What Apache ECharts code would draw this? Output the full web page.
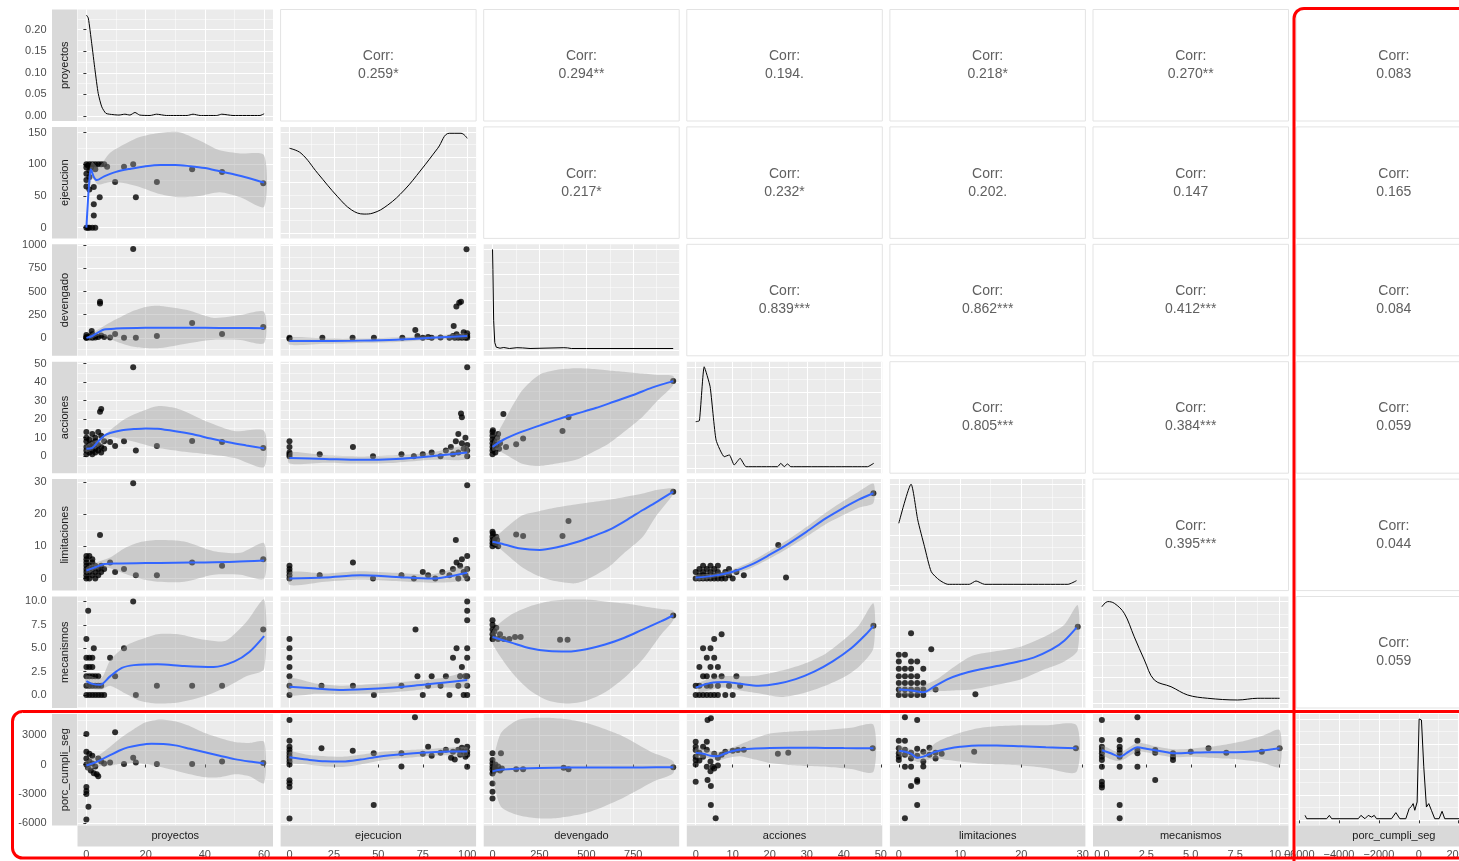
<!DOCTYPE html>
<html><head><meta charset="utf-8">
<script src="https://cdn.jsdelivr.net/npm/echarts@6/dist/echarts.min.js"></script>
<style>html,body{margin:0;padding:0;background:#fff;}#c{width:1459px;height:861px;}</style>
</head><body><div id="c"></div>
<script>
// ---------------- DATA ----------------
const variables = ['proyectos','ejecucion','devengado','acciones','limitaciones','mecanismos','porc_cumpli_seg'];
const corrRow0 = ['0.259*','0.294**','0.194.','0.218*','0.270**','0.083'];
const corrRow1 = ['0.217*','0.232*','0.202.','0.147','0.165'];
const corrRow2 = ['0.839***','0.862***','0.412***','0.084'];
const corrRow3 = ['0.805***','0.384***','0.059'];
const corrRow4 = ['0.395***','0.044'];
const corrRow5 = ['0.059'];

// densities (diagonal); proyectos in density units, others relative to panel peak
const dens_proy = [[0,0.234],[0.65,0.227],[1.8,0.168],[2.9,0.107],[4,0.052],[5.2,0.021],[6.6,0.006],[9,0.003],[11,0.002],[13,0.004],[14.7,0.002],[16.4,0.008],[18,0.002],[21.5,0.001],[23.7,0.004],[27,0.001],[34,0.001],[36,0.004],[38.4,0.001],[44,0.001],[45.7,0.004],[49.5,0.001],[58.6,0.001],[60,0.005]];
const dens_ejec = [[0,0.839],[6.5,0.79],[15.9,0.592],[27.1,0.361],[35,0.23],[42,0.19],[47,0.2],[55.3,0.279],[64.6,0.427],[74,0.625],[83.4,0.839],[89.9,0.987],[96.5,0.987],[100,0.937]];
const dens_dev = [[0,1.0],[2,0.8],[6,0.3],[12,0.08],[20,0.035],[40,0.025],[60,0.032],[90,0.022],[130,0.03],[160,0.028],[200,0.022],[380,0.03],[400,0.028],[420,0.022],[500,0.022],[963,0.022]];
const dens_acc = [[0,0.458],[1,0.468],[2.3,1.0],[3.9,0.803],[5.5,0.278],[7.7,0.113],[9.1,0.13],[10.4,0.031],[12,0.097],[13.6,0.014],[22.1,0.014],[23,0.048],[23.9,0.014],[24.8,0.041],[25.7,0.014],[46.4,0.014],[48.1,0.048]];
const dens_lim = [[0,0.614],[2,1.0],[3.1,0.646],[4.2,0.383],[5.3,0.136],[6.6,0.055],[8,0.012],[11.5,0.012],[12.6,0.045],[14,0.012],[27.6,0.012],[29,0.048]];
const dens_mec = [[0,0.949],[0.33,1.0],[0.7,0.983],[1.26,0.884],[1.82,0.653],[2.39,0.424],[2.95,0.226],[3.89,0.16],[4.83,0.078],[5.95,0.046],[7.64,0.029],[8.77,0.046],[10,0.046]];
const dens_porc = [[-5700,0.049],[-5617,0.016],[-4617,0.016],[-4483,0.049],[-4367,0.016],[-3033,0.016],[-2900,0.049],[-2700,0.016],[-2533,0.049],[-2367,0.032],[-2233,0.049],[-2117,0.016],[-1367,0.016],[-1150,0.076],[-950,0.016],[-650,0.016],[-483,0.115],[-367,0.138],[-283,0.165],[-200,0.099],[-83,0.181],[17,1.0],[133,0.99],[250,0.528],[383,0.131],[500,0.165],[633,0.099],[800,0.016],[1017,0.016],[1167,0.089],[1300,0.016],[2050,0.016],[3000,0.016]];

// scatter points (p_), loess fit (f_), confidence band [x, low, high] (b_)
const p_ejec_proy = [[0,0],[0.5,0],[1,0],[2,0],[3,0],[2.5,19],[2.5,37],[4.5,48],[1,60],[2.5,64],[0,65],[0,75],[1,80],[0,85],[1,90],[0,95],[0,100],[1,100],[2,100],[3,100],[4,100],[5,100],[6,100],[0.5,98],[1.5,95],[3,92],[7,96],[9.7,72],[12.7,96],[15.8,100],[16.7,48],[23.8,72],[35.7,92],[45.8,88],[59.7,70]];
const f_ejec_proy = [[0,0],[0.5,40],[1,75],[1.5,92],[2.5,80],[3.5,75],[6,81],[10,88],[15,93],[20,97],[25,99],[30,99],[35,97],[40,94],[45,89],[50,84],[55,78],[60,71]];
const b_ejec_proy = [[1,60,90],[2,78,104],[4,68,95],[8,72,118],[13,70,132],[18,64,143],[24,54,149],[31,48,151],[38,50,138],[45,56,122],[52,48,117],[60,33,114]];

const p_dev_proy = [[15.8,960],[4.6,390],[4.6,370],[1.8,75],[9.7,42],[12.7,0],[16.7,0],[23.8,20],[35.7,160],[45.8,42],[59.7,117],[8,5],[0,0],[0,10],[1,5],[2,0],[3,20],[0,30],[1,15],[2,40],[4,10],[5,25],[3,5],[0,2],[6,10]];
const f_dev_proy = [[0,0],[2,20],[4,60],[6,90],[10,100],[20,108],[30,110],[40,108],[50,106],[60,105]];
const b_dev_proy = [[1,-20,30],[5,30,110],[10,-40,200],[15,-90,280],[20,-110,333],[25,-110,345],[34,-60,300],[43,-20,215],[52,-23,246],[60,-57,280]];

const p_acc_proy = [[15.8,48],[4.6,24],[5,25.5],[8,7.6],[9.7,5.5],[12.7,8],[16.7,3],[23.8,5.5],[35.7,8.2],[45.8,7.6],[59.7,4.4],[0,1],[0,3],[0,5],[0,8],[0,10],[0,13],[1,2],[1,4],[1,6],[1,9],[2,1],[2,3],[2,5],[2,7],[2,12],[3,2],[3,4],[3,8],[3,10],[4,3],[4,6],[4,13],[5,2],[5,5],[5,11],[6,4],[6,8]];
const f_acc_proy = [[0,4],[2,4.5],[4,8],[6,11],[8,12.5],[12,14],[16,14.6],[20,15],[24,14.8],[30,13.5],[36,11.8],[42,9.5],[48,7.5],[54,5.8],[60,4.2]];
const b_acc_proy = [[0,2,6],[5,6,10],[8,10,14],[13,9,20],[18,7,23.8],[24,4.5,27],[31,2.8,25.5],[41,1,18.5],[50,-1,13.6],[60,-5.8,13.6]];

const p_lim_proy = [[15.8,29.6],[4.6,13.5],[9.7,2],[12.7,3],[16.7,1],[23.8,1],[35.7,5],[45.8,4],[59.7,6],[8,5],[0,0],[0,1],[0,2],[0,3],[0,4],[0,5],[0,6],[0,7],[1,0],[1,2],[1,4],[1,7],[2,1],[2,3],[2,5],[2,6],[3,0],[3,2],[3,4],[4,1],[4,3],[5,2],[5,4],[6,3]];
const f_lim_proy = [[0,2.5],[3,3.5],[6,4.5],[10,4.7],[20,4.8],[30,4.9],[40,5],[50,5.2],[60,5.6]];
const b_lim_proy = [[0,1.5,3.5],[5,3.5,5.5],[8,3.2,6.5],[13,1.5,9.5],[18,0,11.3],[24,-1,12],[33,-1,11.5],[43,1.2,8.5],[52,1.2,8],[60,0,11]];

const p_mec_proy = [[15.8,10],[0.6,9],[0,6],[2.5,5],[8,4],[12.7,5],[9.7,2],[16.7,0],[23.8,1],[35.7,1],[45.8,1],[59.7,7],[0,0],[1,0],[2,0],[3,0],[4,0],[5,0],[6,0],[0,1],[1,1],[2,1],[3,1],[4,1],[5,1],[0,2],[1,2],[2,2],[3,2],[4,2],[0,3],[1,3],[2,3],[0,4],[1,4],[2,4]];
const f_mec_proy = [[0,1.5],[2,1.2],[4.6,1.1],[8,2],[12,2.9],[16,3.2],[24,3.3],[33,3.1],[43,3.0],[50,3.6],[55,4.6],[60,6.3]];
const b_mec_proy = [[0,0.9,2.1],[5,0.6,1.8],[8,1,3.7],[13,0.2,5.2],[18,-0.6,5.9],[24,-0.9,6.5],[31,-0.8,6.5],[40,-0.1,5.9],[47,0.8,5.8],[54,2,7.8],[60,2.8,10.2]];

const p_porc_proy = [[0,3100],[9.7,3300],[0,1300],[1,1100],[2,900],[0,600],[1,300],[2,100],[3,-200],[0,0],[0.5,-300],[1.5,-600],[2.5,-900],[4,-1200],[3.5,-1000],[0,-2300],[0,-2700],[0,-3000],[0.7,-4300],[0,-5600],[5,300],[6,100],[4,600],[8,200],[12.7,50],[15.8,700],[16.7,200],[23.8,50],[35.7,50],[45.8,300],[59.7,150]];
const f_porc_proy = [[0,-100],[2,100],[4,350],[6,650],[8,950],[11,1400],[14,1750],[18,2000],[22,2120],[26,2100],[30,1950],[35,1600],[40,1250],[45,900],[50,550],[55,300],[60,100]];
const b_porc_proy = [[0,-600,400],[4,-200,900],[8,-100,1800],[12,50,2800],[16,150,3600],[20,50,4300],[25,-250,4600],[30,-600,4400],[35,-1000,3900],[40,-1300,3200],[45,-1300,2700],[50,-1000,2300],[55,-1200,2200],[60,-1900,2300]];

const p_dev_ejec = [[0,0],[0,-10],[18.5,0],[35.5,0],[47.5,0],[63.5,0],[70.8,85],[72,20],[75,0],[78,10],[80,0],[85,5],[90,0],[92,20],[92.4,128],[93,0],[94,40],[95,0],[96,10],[97,0],[98,60],[99,0],[100,0],[100,20],[100,50],[93.9,340],[95.5,380],[96.5,390],[99.6,957]];
const f_dev_ejec = [[0,-35],[20,-35],[40,-30],[60,-20],[80,0],[100,20]];
const b_dev_ejec = [[0,-75,5],[20,-65,-5],[40,-55,-5],[60,-45,5],[80,-20,20],[100,-10,50]];

const p_acc_ejec = [[0,0],[0,2],[0,5],[0,8],[0,1],[17,1],[35.7,5],[47,0],[63,1],[70,0],[75,1],[80,2],[85,0],[88,3],[90.8,5],[93.6,8],[95,2],[96.5,23],[97,21],[98,4],[99,10],[100,48],[100,0],[100,3],[100,6],[92,1],[95,12],[97,7]];
const f_acc_ejec = [[0,-1],[20,-1.5],[40,-2],[60,-1.5],[80,0],[100,2]];
const b_acc_ejec = [[0,-4,2],[20,-3.5,0.5],[40,-4,0],[60,-3.5,0.5],[80,-2,2],[100,-1.5,5.5]];

const p_lim_ejec = [[0,0],[0,1],[0,2],[0,3],[0,4],[17,1],[35.7,5],[47,0],[63,1],[70,0],[75,2],[78,1],[82,0],[86,2],[90,1],[92,3],[93.6,12],[95,0],[96,4],[97,6],[98,2],[99,1],[100,29],[100,0],[100,3],[100,7],[94,5]];
const f_lim_ejec = [[0,0],[20,0.3],[40,1],[60,0.5],[80,0],[100,1.8]];
const b_lim_ejec = [[0,-2,2],[20,-1,1.6],[40,-0.3,2.3],[60,-0.8,1.8],[80,-1.3,1.3],[100,-0.3,3.8]];

const p_mec_ejec = [[0,0],[0,1],[0,2],[0,3],[0,4],[0,5],[0,6],[18,1],[35.7,1],[47.5,0],[63,1],[70.9,7],[72,2],[75,0],[78,1],[80,2],[85,1],[88,2],[90,0],[92,4],[94,5],[95,1],[96,2],[97,3],[98,0],[99,2],[100,0],[100,1],[100,2],[100,4],[100,5],[100,8],[100,9],[100,10]];
const f_mec_ejec = [[0,0.9],[15,0.7],[30,0.55],[50,0.7],[70,1.0],[85,1.3],[100,1.6]];
const b_mec_ejec = [[0,0,1.8],[15,0.15,1.25],[30,0.1,1.0],[50,0.2,1.2],[70,0.5,1.5],[85,0.8,1.8],[100,0.9,2.3]];

const p_porc_ejec = [[0,4540],[0,2430],[0,1800],[0,1500],[0,1200],[0,900],[0,600],[0,300],[0,0],[0,-1600],[0,-1900],[0,-2300],[0,-5500],[18,1650],[35.6,1400],[47.4,1150],[47.4,-4130],[63,1150],[63,-200],[70.6,4810],[75,1100],[78,1800],[80,900],[85,1200],[88,1500],[90.9,700],[92,1300],[93,500],[94.3,2430],[95,1500],[96,1000],[97,1700],[98,1300],[99,800],[100,1800],[100,1300],[100,1000],[100,-230]];
const f_porc_ejec = [[0,750],[10,500],[20,320],[30,300],[40,500],[50,800],[60,1000],[70,1150],[80,1250],[90,1320],[100,1320]];
const b_porc_ejec = [[0,200,1300],[10,0,1000],[20,-200,850],[30,-250,800],[40,0,1000],[50,350,1250],[60,600,1400],[70,750,1500],[80,900,1600],[90,950,1700],[100,900,1750]];

const p_acc_dev = [[963,40.6],[58,22.8],[405,21],[373,13.6],[163,9.6],[126,6.4],[72,5],[0,3],[0,5],[0,7],[0,9],[0,11],[0,13],[5,4],[10,8],[15,2],[20,6],[25,10],[30,12],[35,4],[40,7],[0,1],[2,14],[8,6]];
const f_acc_dev = [[0,5],[60,9],[150,13],[250,16.5],[350,20],[450,23],[550,26],[650,29.5],[750,33],[850,37],[963,40.5]];
const b_acc_dev = [[0,3,7],[27,3.3,12.3],[154,-3.9,35],[250,-5.3,44],[340,-4,46.5],[440,-2.1,47.4],[520,1.5,47.2],[620,6.9,46.3],[700,13,45.6],[800,21.3,44.6],[880,30,43.8],[963,38.4,43.3]];

const p_lim_dev = [[963,27],[405,17.9],[373,13.2],[163,13.2],[126,13.7],[0,10],[0,11],[0,12],[0,13],[5,11],[10,12],[15,10.5],[20,13],[2,14],[8,11.5],[25,12],[30,10],[0,14.5]];
const f_lim_dev = [[0,11.4],[62,10.6],[150,9.3],[252,8.9],[350,9.8],[441,11.2],[530,13],[621,15.1],[710,18],[801,21.3],[880,24],[963,27]];
const b_lim_dev = [[0,10.5,12.5],[27,9.9,13.5],[154,3.7,19.5],[252,0.6,21],[333,-0.8,22],[441,-1.5,23],[513,0,23.6],[621,3.7,24.5],[693,7.5,25.2],[801,13,26.4],[873,19.5,27.5],[963,26.2,28]];

const p_mec_dev = [[963,8.5],[400,5.9],[360,5.9],[0,6],[0,6.5],[0,7],[0,7.5],[5,6.2],[10,6.8],[20,7.2],[30,6],[40,6.5],[60,6],[90,6],[120,6.2],[150,6.2],[0,8],[2,6]];
const f_mec_dev = [[0,6.2],[100,5.6],[200,5.0],[300,4.7],[400,4.65],[500,4.9],[600,5.4],[700,6.1],[800,7.0],[900,7.9],[963,8.5]];
const b_mec_dev = [[0,5.5,6.9],[100,2.5,8.6],[200,0.5,9.5],[300,-0.6,10],[400,-0.9,10.2],[500,-0.6,10.2],[600,0.3,10],[700,1.8,9.8],[800,3.8,9.5],[900,6.5,9.2],[963,8.0,9.0]];

const p_porc_dev = [[0,1140],[45,1140],[0,460],[0,100],[0,-230],[0,-500],[0,-910],[0,-1930],[0,-2780],[0,-3460],[10,-300],[20,-500],[30,-200],[40,-600],[50,-400],[126,-490],[163,-490],[379,-330],[405,-490],[963,-290],[5,-700],[15,0]];
const f_porc_dev = [[0,-700],[50,-520],[150,-420],[250,-360],[400,-310],[600,-300],[800,-295],[963,-290]];
const b_porc_dev = [[0,-1250,-50],[45,-4300,3200],[135,-5150,4550],[225,-5450,4750],[315,-5500,4750],[405,-5300,4600],[495,-4950,4250],[585,-4350,3700],[675,-3600,3050],[765,-2700,2150],[855,-1750,1200],[963,-900,330]];

const p_lim_acc = [[48,26.5],[22.3,10.4],[24.4,0.3],[0,0],[1,0],[2,0],[3,0],[4,0],[5,0],[6,0],[7,0],[8,0],[10,0],[1,1],[2,1],[3,1],[5,1],[7,1],[9,1],[0,2],[2,2],[4,2],[6,2],[8,2],[11,2],[1,3],[3,3],[5,3],[9,3],[2,4],[4,4],[6,4],[13,1]];
const f_lim_acc = [[0,0.3],[5,0.9],[10,2.1],[15,4.3],[20,7.4],[25,10.8],[30,14.6],[35,18.6],[40,22],[44,24.5],[48,26.5]];
const b_lim_acc = [[0,-0.5,1.1],[5,0.2,1.6],[10,1.3,2.9],[15,3.3,5.3],[20,6.2,8.6],[25,9.5,12.1],[30,13.1,16.1],[35,16.8,20.4],[40,19.8,24.2],[44,22,27],[48,23.5,29.5]];

const p_mec_acc = [[0,0],[1,0],[2,0],[3,0],[4,0],[5,0],[6,0],[8,0],[10,0],[0,1],[1,1],[3,1],[4,1],[6,1],[9,1],[12,1],[2,2],[3,2],[5,2],[7,2],[11,2],[4,3],[6,3],[1,3],[3,4],[5,4],[2,5],[4,5],[5,6],[7,6.5],[48,7.4]];
const f_mec_acc = [[0,0.8],[4,1.3],[8,1.4],[12,1.2],[17,1.0],[22,1.2],[27,1.7],[32,2.5],[37,3.6],[42,5.0],[46,6.5],[48,7.4]];
const b_mec_acc = [[1,0.3,1.3],[7,0.8,2.0],[12,0.5,2.0],[17,0.2,2.1],[23,-0.2,2.6],[29,0.2,3.3],[35,1.0,4.4],[40,1.9,5.9],[44,3.0,7.4],[48,5.0,9.8]];

const p_porc_acc = [[3.2,4540],[4.1,4710],[0,2320],[3,2320],[0,1810],[0,1470],[0,790],[0,450],[0,0],[0,-1760],[3.2,-1590],[4.1,-2200],[4.1,-4130],[5.4,-5490],[3,-230],[4.6,-230],[1,1200],[2,800],[3,1500],[4,300],[5,1100],[6,700],[7,1000],[5,-400],[8,1300],[10,1400],[11.4,1470],[13,1500],[22.2,1100],[25,1200],[47.8,1650],[2,1800],[6,-100],[1,400],[4,-700]];
const f_porc_acc = [[0,1200],[2,1100],[4,900],[6,850],[8,1150],[11,1450],[15,1600],[20,1680],[25,1700],[30,1700],[35,1690],[40,1670],[48,1650]];
const b_porc_acc = [[0,700,1700],[3,700,1500],[6,450,1250],[9,700,1600],[12,850,2050],[16,500,2650],[20,150,3150],[25,-50,3350],[30,-150,3450],[36,-250,3550],[42,-450,3750],[48,-750,4050]];

const p_mec_lim = [[0,0],[1,0],[2,0],[3,0],[4,0],[0,0.6],[1,0.6],[2,0.6],[3,0.6],[4,0.6],[6,0.6],[0,1.3],[1,1.3],[2,1.3],[3,1.3],[4,1.3],[0,2],[1,2],[2,2],[3,2],[0,2.8],[1,2.8],[2,2.8],[4,2.8],[0,3.6],[2,3.6],[3,3.6],[0,4.3],[1,4.3],[2,6.6],[5.3,4.9],[12.5,0.1],[29.2,7.3]];
const f_mec_lim = [[0,0.6],[2,0.5],[4,0.3],[6,1.0],[8,1.7],[10,2.2],[13,2.7],[16,3.1],[19,3.5],[22,4.0],[25,4.9],[27,5.8],[29,7.2]];
const b_mec_lim = [[0,0.2,1.0],[3,0.1,0.9],[6,0.4,1.6],[9,0.5,3.0],[12,0.6,4.2],[16,1.1,4.7],[20,1.7,5.2],[24,2.8,6.3],[27,3.6,7.5],[29.2,4.8,9.6]];

const p_porc_lim = [[1,4810],[3,4540],[0,2430],[1,2430],[0,1650],[0,1140],[0,460],[1,-230],[2,-230],[3,-1580],[3,-1760],[2,-2200],[3,-4130],[1,-5490],[12.3,1300],[28.9,1650],[1,1500],[2,1200],[3,900],[4,1300],[5,1000],[6,1200],[7,1100],[2,600],[4,300],[3,1600],[5,1700],[0,800],[1,1000],[4,-200],[6,600]];
const f_porc_lim = [[0,1400],[1,1300],[2,1100],[3,700],[4,800],[5,1050],[6,1300],[8,1600],[10,1800],[13,1950],[16,1950],[20,1850],[24,1750],[29,1650]];
const b_porc_lim = [[0,950,1950],[1,850,1750],[2,600,1550],[3,250,1200],[4,350,1300],[5,500,1650],[6,650,2200],[8,450,2800],[10,300,3250],[13,100,3700],[16,0,3900],[20,-100,4000],[24,-350,4000],[29,-750,4000]];

const p_porc_mec = [[0,4540],[2,4810],[0,2500],[0,1810],[0,1140],[0,460],[0,-230],[0,-1760],[0,-2100],[0,-2340],[1,2500],[1,1810],[1,1470],[1,1140],[1,800],[1,-230],[1,-4130],[1,-5490],[2,2430],[2,1470],[2,1140],[2,-230],[3,-1580],[3,1470],[3,1200],[4,1140],[4,800],[4,460],[5,1300],[6,1650],[7,1200],[9,1300],[10,1650],[0,800],[0,1470]];
const f_porc_mec = [[0,1450],[0.5,1150],[1,800],[1.5,1300],[2,1750],[2.5,1600],[3,1450],[3.5,1300],[4,1150],[5,1200],[6,1250],[7,1250],[8,1280],[9,1400],[10,1650]];
const b_porc_mec = [[0,1000,1900],[1,350,1250],[2,1300,2200],[3,1050,1850],[4,750,1550],[5,800,1600],[6,700,1800],[7,600,2050],[8,450,2400],[9,200,2900],[10,-230,3520]];

// ---------------- LAYOUT / SCALES ----------------
const corrRows = [corrRow0, corrRow1, corrRow2, corrRow3, corrRow4, corrRow5];
const densities = [dens_proy, dens_ejec, dens_dev, dens_acc, dens_lim, dens_mec, dens_porc];
const densSmooth = [0.2, 0.4, 0, 0.15, 0.2, 0.35, 0];
const lower = {
  '1,0':[p_ejec_proy,f_ejec_proy,b_ejec_proy], '2,0':[p_dev_proy,f_dev_proy,b_dev_proy],
  '3,0':[p_acc_proy,f_acc_proy,b_acc_proy], '4,0':[p_lim_proy,f_lim_proy,b_lim_proy],
  '5,0':[p_mec_proy,f_mec_proy,b_mec_proy], '6,0':[p_porc_proy,f_porc_proy,b_porc_proy],
  '2,1':[p_dev_ejec,f_dev_ejec,b_dev_ejec], '3,1':[p_acc_ejec,f_acc_ejec,b_acc_ejec],
  '4,1':[p_lim_ejec,f_lim_ejec,b_lim_ejec], '5,1':[p_mec_ejec,f_mec_ejec,b_mec_ejec],
  '6,1':[p_porc_ejec,f_porc_ejec,b_porc_ejec], '3,2':[p_acc_dev,f_acc_dev,b_acc_dev],
  '4,2':[p_lim_dev,f_lim_dev,b_lim_dev], '5,2':[p_mec_dev,f_mec_dev,b_mec_dev],
  '6,2':[p_porc_dev,f_porc_dev,b_porc_dev], '4,3':[p_lim_acc,f_lim_acc,b_lim_acc],
  '5,3':[p_mec_acc,f_mec_acc,b_mec_acc], '6,3':[p_porc_acc,f_porc_acc,b_porc_acc],
  '5,4':[p_mec_lim,f_mec_lim,b_mec_lim], '6,4':[p_porc_lim,f_porc_lim,b_porc_lim],
  '6,5':[p_porc_mec,f_porc_mec,b_porc_mec]
};
const COLX = [[-3,63,20],[-5,105,25],[-47,995,250],[-2.4,50.4,10],[-1.45,30.45,10],[-0.5,10.5,2.5],[-6150,3650,2000]];
const ROWY = [[-0.0118,0.247,0.05],[-17,159,50],[-194,1011,250],[-9.2,51,10],[-3.75,30.9,10],[-1.38,10.53,2.5],[-6210,5160,3000]];
const DIAGY = [-0.05,1.05,0.25];
const L = {left0:77.5, dx:203.1, w:195.5, top0:9.5, dy:117.4, h:111.5};
const FONT = 'Liberation Sans, Arial, sans-serif';

function isMult(v, I){ return Math.abs(v/I - Math.round(v/I)) < 1e-6; }
function multiples(r){ const out=[]; for(let k=Math.ceil(r[0]/r[2]); k*r[2]<=r[1]+1e-9; k++) out.push(+(k*r[2]).toFixed(6)); return out; }
function fmt(v, I, kind, minusChar){
  if(!isMult(v,I)) return '';
  if(kind==='d2') return v.toFixed(2);
  if(kind==='d1') return v.toFixed(1);
  const s = String(Math.round(v));
  return v<0 ? minusChar + s.slice(1) : s;
}
const xKind = ['i','i','i','i','i','d1','i'];
const yKind = ['d2','i','i','i','i','d1','i'];

const grids=[], xAxes=[], yAxes=[], series=[], elements=[];
const gridLine = {show:true, lineStyle:{color:'#ffffff', width:1.1}};
const minorLine = {show:true, lineStyle:{color:'#ffffff', width:0.5}};

function bandSeries(band, gi){
  return {type:'custom', xAxisIndex:gi, yAxisIndex:gi, clip:true, silent:true, z:3,
    data: band, encode:{x:0, y:[1,2]},
    renderItem: function(params, api){
      if(params.dataIndex !== 0) return null;
      const up = band.map(r=>api.coord([r[0], r[2]]));
      const lo = band.map(r=>api.coord([r[0], r[1]])).reverse();
      return {type:'polygon', shape:{points: up.concat(lo), smooth:0.25},
        style:{fill:'rgba(153,153,153,0.4)', stroke:null}};
    }};
}

for(let i=0;i<7;i++){
  for(let j=0;j<7;j++){
    const gi = grids.length;
    const upper = j>i, diag = i===j;
    const left = L.left0 + j*L.dx, top = L.top0 + i*L.dy;
    grids.push({left:left, top:top, width:L.w, height:L.h, show:true, containLabel:false, outerBoundsMode:'none',
      backgroundColor: upper ? '#ffffff' : '#EBEBEB',
      borderColor: upper ? '#E3E3E3' : 'rgba(0,0,0,0)', borderWidth: upper ? 1 : 0});
    const cx = COLX[j];
    const bottomRow = i===6, leftCol = j===0;
    const xm = multiples(cx);
    xAxes.push({type:'value', gridIndex:gi, min:cx[0], max:cx[1], minInterval:cx[2], maxInterval:cx[2],
      show: !upper, position:'bottom', offset: bottomRow ? 21 : 0,
      axisLine:{show:false},
      axisTick:{show:bottomRow, length:3, customValues:xm, lineStyle:{color:'#333333', width:1}},
      axisLabel:{show:bottomRow, customValues:xm, color:'#4D4D4D', fontSize:11, fontFamily:FONT, margin:3,
        formatter:(v)=>fmt(v, cx[2], xKind[j], '\u2212')},
      splitLine:gridLine, minorTick:{show:false, splitNumber:2}, minorSplitLine:minorLine});
    const ry = (diag && i>0) ? DIAGY : ROWY[i];
    const ym = multiples(ry);
    yAxes.push({type:'value', gridIndex:gi, min:ry[0], max:ry[1], minInterval:ry[2], maxInterval:ry[2],
      show: !upper, position:'left', offset: leftCol ? 26 : 0,
      axisLine:{show:false},
      axisTick:{show:leftCol, length:3, customValues:ym, lineStyle:{color:'#333333', width:1}},
      axisLabel:{show:leftCol, customValues:ym, color:'#4D4D4D', fontSize:11, fontFamily:FONT, margin:5,
        formatter:(v)=>fmt(v, ry[2], yKind[i], '-')},
      splitLine:gridLine, minorTick:{show:false, splitNumber:2}, minorSplitLine:minorLine});

    if(upper){
      elements.push({type:'text', silent:true, z:10,
        style:{text:'Corr:\n' + corrRows[i][j-i-1], x:left+L.w/2, y:top+L.h/2,
          align:'center', verticalAlign:'middle', fill:'#606060', font:'14px ' + FONT, lineHeight:18}});
    } else if(diag){
      series.push({type:'line', xAxisIndex:gi, yAxisIndex:gi, data:densities[i], symbol:'none',
        smooth:densSmooth[i], lineStyle:{color:'#000000', width:1}, silent:true, z:4});
    } else {
      const [pts, fit, band] = lower[i+','+j];
      series.push({type:'scatter', xAxisIndex:gi, yAxisIndex:gi, data:pts, symbolSize:6,
        itemStyle:{color:'#000000'}, silent:true, z:2});
      series.push(bandSeries(band, gi));
      series.push({type:'line', xAxisIndex:gi, yAxisIndex:gi, data:fit, symbol:'none', smooth:0.3,
        lineStyle:{color:'#3366FF', width:2}, silent:true, z:4});
    }
  }
}

// strips
for(let i=0;i<7;i++){
  const top = L.top0 + i*L.dy;
  elements.push({type:'rect', silent:true, z:5, shape:{x:52, y:top, width:25, height:L.h}, style:{fill:'#D9D9D9'}});
  elements.push({type:'text', silent:true, z:6, x:64.5, y:top+L.h/2, rotation:Math.PI/2,
    style:{text:variables[i], x:0, y:0, align:'center', verticalAlign:'middle', fill:'#1A1A1A', font:'11px ' + FONT}});
}
for(let j=0;j<7;j++){
  const left = L.left0 + j*L.dx;
  const stripTop = L.top0 + 6*L.dy + L.h;
  elements.push({type:'rect', silent:true, z:5, shape:{x:left, y:stripTop, width:L.w, height:21}, style:{fill:'#D9D9D9'}});
  elements.push({type:'text', silent:true, z:6,
    style:{text:variables[j], x:left+L.w/2, y:stripTop+10.5, align:'center', verticalAlign:'middle', fill:'#1A1A1A', font:'11px ' + FONT}});
}
// red highlight boxes
elements.push({type:'rect', silent:true, z:50, shape:{x:1294, y:8.5, width:240, height:900, r:10},
  style:{fill:'rgba(0,0,0,0)', stroke:'#FF0000', lineWidth:3}});
elements.push({type:'rect', silent:true, z:50, shape:{x:12.5, y:711.5, width:1540, height:146.5, r:10},
  style:{fill:'rgba(0,0,0,0)', stroke:'#FF0000', lineWidth:3}});

const chart = echarts.init(document.getElementById('c'), null, {renderer:'canvas'});
chart.setOption({
  animation:false, backgroundColor:'#ffffff',
  grid:grids, xAxis:xAxes, yAxis:yAxes, series:series,
  graphic:{elements:elements}
});
</script></body></html>
